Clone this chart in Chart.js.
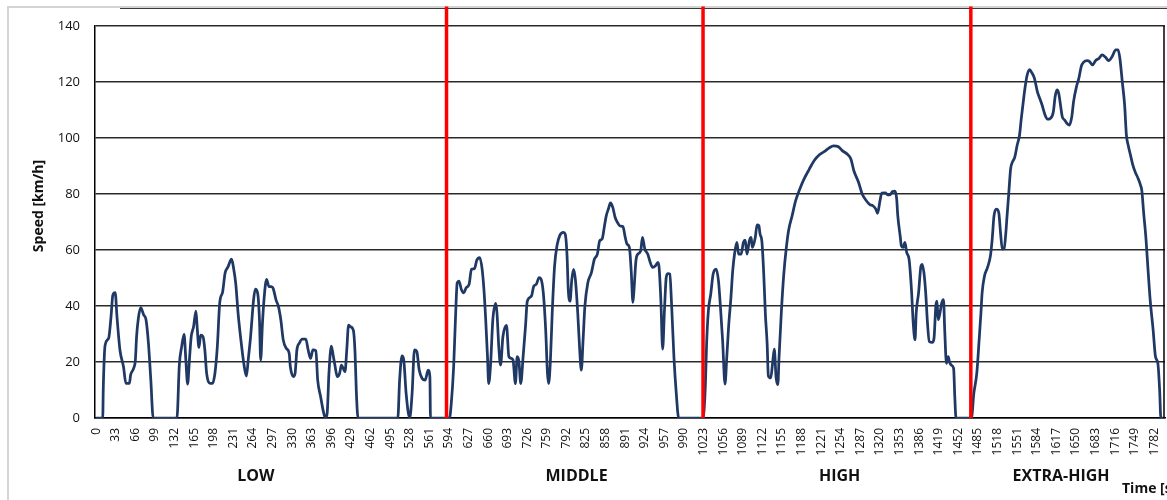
<!DOCTYPE html>
<html>
<head>
<meta charset="utf-8">
<title>WLTP speed trace</title>
<script src="https://cdn.jsdelivr.net/npm/chart.js@4/dist/chart.umd.min.js"></script>
<style>
  html, body { margin: 0; padding: 0; background: #fff; }
  #wrap { position: relative; width: 1167px; height: 500px; overflow: hidden; }
</style>
</head>
<body>
<div id="wrap"><canvas id="cycleChart" width="1167" height="500"></canvas></div>
<script>
// Speed trace: time [s] and speed [km/h]
const TIME_S = [
    0, 11, 12, 15, 21, 25, 28, 32, 35, 40, 46, 50, 56, 58, 63, 66, 68, 71, 75, 80,
    84, 88, 92, 96, 136, 140, 144, 148, 151, 154, 157, 160, 164, 168, 170, 173, 176, 180, 183, 186,
    192, 196, 200, 204, 208, 213, 217, 222, 228, 231, 235, 239, 245, 249, 253, 256, 260, 265, 268, 272,
    275, 277, 280, 283, 287, 291, 295, 298, 303, 307, 311, 315, 320, 325, 327, 332, 335, 338, 342, 347,
    353, 357, 361, 365, 370, 373, 378, 382, 386, 389, 392, 396, 399, 402, 406, 410, 413, 416, 419, 422,
    425, 428, 433, 436, 438, 441, 508, 511, 515, 518, 522, 528, 532, 536, 540, 544, 549, 554, 559, 562,
    563, 595,
    598, 602, 605, 608, 611, 615, 619, 623, 628, 632, 637, 641, 646, 650, 653, 656, 659, 661, 664, 668,
    673, 675, 678, 681, 685, 691, 695, 699, 702, 706, 709, 712, 715, 719, 723, 726, 733, 737, 741, 746,
    749, 753, 757, 760, 762, 765, 768, 772, 776, 781, 787, 790, 793, 795, 798, 801, 804, 807, 811, 814,
    817, 820, 823, 828, 834, 839, 844, 848, 852, 856, 859, 863, 866, 870, 874, 878, 882, 887, 891, 894,
    898, 901, 904, 906, 909, 912, 917, 920, 924, 929, 933, 937, 942, 946, 948, 951, 954, 957, 960, 963,
    966, 969, 973, 977, 981, 1022,
    1026, 1028, 1031, 1035, 1039, 1044, 1048, 1051, 1055, 1059, 1062, 1065, 1069, 1072, 1075, 1079, 1082, 1086, 1090, 1093,
    1096, 1100, 1103, 1105, 1110, 1113, 1116, 1118, 1121, 1124, 1127, 1130, 1132, 1136, 1139, 1142, 1145, 1148, 1150, 1154,
    1158, 1162, 1166, 1172, 1178, 1185, 1192, 1201, 1209, 1218, 1226, 1234, 1242, 1250, 1257, 1265, 1271, 1276, 1284, 1290,
    1297, 1303, 1308, 1313, 1316, 1320, 1323, 1329, 1333, 1337, 1341, 1345, 1348, 1350, 1354, 1356, 1359, 1362, 1365, 1369,
    1373, 1376, 1379, 1381, 1385, 1389, 1391, 1394, 1397, 1400, 1403, 1408, 1411, 1414, 1416, 1418, 1421, 1424, 1427, 1429,
    1432, 1435, 1437, 1440, 1444, 1446, 1448, 1474,
    1478, 1483, 1487, 1490, 1492, 1496, 1501, 1506, 1509, 1512, 1516, 1520, 1523, 1526, 1529, 1532, 1534, 1537, 1540, 1543,
    1547, 1551, 1555, 1558, 1562, 1565, 1568, 1572, 1576, 1580, 1585, 1589, 1593, 1598, 1602, 1607, 1612, 1615, 1618, 1621,
    1624, 1627, 1631, 1635, 1639, 1643, 1646, 1651, 1655, 1659, 1663, 1669, 1673, 1678, 1683, 1689, 1694, 1700, 1705, 1711,
    1717, 1721, 1724, 1728, 1732, 1735, 1738, 1742, 1746, 1750, 1755, 1759, 1761, 1764, 1768, 1771, 1775, 1780, 1784, 1788,
    1791, 1793, 1800
];
const SPEED_KMH = [
    0, 0, 11.2, 26, 28.5, 36.2, 43.9, 44.8, 36.2, 24.3, 18.3, 12.4, 12.4, 15.4, 17.7, 20.7, 29, 35.6, 39.4, 36.8,
    35, 26.7, 13.6, 0, 0, 18.9, 25.5, 29.9, 20.7, 12.1, 20.7, 29, 32.6, 38.2, 32.6, 25.2, 29.6, 29, 24.3, 16,
    12.4, 12.4, 16, 25.5, 41, 45.1, 51.7, 54, 56.7, 54, 48.1, 37.4, 25.5, 18.9, 15, 20.7, 29, 42.1, 46, 44.5,
    35, 20.7, 33.8, 43.3, 49.5, 46.9, 46.9, 46.3, 42.1, 39.8, 35, 27.9, 24.9, 23.1, 18.3, 14.8, 16, 24.3, 26.7, 28.2,
    28.2, 24.3, 21.3, 24.3, 24, 13.6, 7.6, 2.9, 0, 1.7, 16, 25.7, 22.5, 18.9, 14.8, 16, 18.9, 17.7, 16.5, 24.3,
    33.2, 32.6, 31.4, 23.1, 10, 0, 0, 13.5, 22.2, 20.7, 8.7, 0, 8.7, 24.3, 23.7, 17.1, 14.1, 13.5, 17.1, 14.7,
    0, 0,
    5.2, 18.3, 35.1, 48.3, 48.9, 45.9, 44.7, 46.5, 47.7, 53.1, 53.3, 56.4, 57.3, 53.1, 45.9, 35.1, 21.9, 12.3, 18.3, 35.1,
    40.9, 37.5, 25.5, 18.9, 29.1, 33.1, 21.9, 21.3, 20.7, 12.3, 21.9, 20.1, 12.3, 21.9, 32.7, 41.7, 43.5, 47.1, 47.7, 50.1,
    49.7, 44.7, 31.5, 15.9, 12.3, 20.7, 37.5, 54.3, 61.5, 65.3, 66.3, 65.6, 57.9, 45.9, 41.7, 49.5, 53.1, 49.5, 37.5, 25.5,
    17.1, 27.9, 39.9, 48.3, 51.9, 56.7, 58.5, 63.3, 63.9, 68.6, 72.2, 74.9, 76.8, 75.2, 71.6, 69.8, 68.6, 68.4, 64.5, 62.1,
    60.9, 52.6, 41.3, 46.6, 56.2, 58.5, 59.7, 64.5, 60.3, 58.5, 55.6, 53.8, 54.4, 55.6, 53.8, 41.9, 24.6, 38.3, 50.2, 51.6,
    51.4, 40.7, 21.7, 8.6, 0, 0,
    12.1, 26.4, 38.3, 44.3, 51.4, 53.2, 49, 40.7, 27.6, 12.1, 21.7, 32.4, 43.1, 52.6, 58.5, 62.7, 58.5, 58.5, 62.7, 63.5,
    58.5, 63.3, 64.5, 60.9, 64.5, 69, 68.7, 65.7, 63.3, 52.6, 37.1, 26.4, 15.1, 14.3, 19.3, 24.6, 14.5, 11.9, 21.7, 38.3,
    51.4, 60.3, 66.9, 72.2, 77.6, 81.8, 85.3, 88.9, 91.9, 94, 95.1, 96.4, 97.2, 96.9, 95.4, 94.2, 92.5, 88.3, 84.1, 80,
    77.6, 76.2, 75.8, 74.6, 73.1, 77.6, 80.3, 80.4, 79.7, 79.7, 80.9, 81, 78.5, 72.2, 65, 61.5, 60.9, 62.7, 59.1, 56.7,
    45.9, 33.9, 27.9, 37.5, 44.7, 54.3, 54.9, 51.9, 44.7, 33.9, 27.3, 27, 28.5, 39.9, 41.7, 35.1, 37.5, 41.1, 42.3, 31.5,
    19.5, 21.9, 20.1, 18.9, 17.7, 7.5, 0, 0,
    8.7, 15.9, 27.9, 37.5, 44.7, 50.7, 53.7, 57.9, 63.9, 72.2, 74.6, 73.4, 66.2, 60.3, 60.5, 66.2, 72.2, 80.6, 89, 91.4,
    93.2, 97.4, 101, 107, 114.2, 119, 122.6, 124.4, 123.2, 121.4, 116.6, 114.2, 111.8, 108.2, 106.7, 107, 109.4, 114.8, 117.2, 116,
    111.8, 107.6, 106.4, 105.2, 104.6, 107.6, 113, 118.4, 121.4, 125.6, 127.1, 127.6, 127.3, 126.1, 127.6, 128.5, 129.7, 128.8, 127.6, 129.1,
    131.5, 131.5, 128.5, 120.2, 111.8, 101, 97.4, 93.8, 90.2, 87.8, 85.4, 83, 81.2, 73.4, 63.9, 54.3, 42.3, 31.5, 21.9, 19.5,
    9.9, 0, 0
];

// Phase boundaries (red markers) and phase names
const PHASE_ENDS_S = [590, 1022, 1473];
const PHASE_NAMES = ['LOW', 'MIDDLE', 'HIGH', 'EXTRA-HIGH'];
const PHASE_LABEL_AT_S = [269, 809, 1252, 1625];

const X_TICK_STEP = 33;
const X_LAST_TICK = 1782;
const Y_TICKS_KMH = [0, 20, 40, 60, 80, 100, 120, 140];

(function () {
    const FONT = "'Open Sans', 'Noto Sans', sans-serif";
    const TEXT = '#111';

    const speedPoints = TIME_S.map((t, i) => ({ x: t, y: SPEED_KMH[i] }));

    const xTicks = [];
    for (let v = 0; v <= X_LAST_TICK; v += X_TICK_STEP) xTicks.push({ value: v });

    // red boundary markers run a little above the 140 line, to the frame
    const markerSets = PHASE_ENDS_S.map(t => ({
        data: [{ x: t, y: 0 }, { x: t, y: 147 }],
        borderColor: '#ff0000',
        borderWidth: 3.5,
        pointRadius: 0,
        clip: false,
        order: 0,
    }));

    const framePlugin = {
        id: 'frame',
        beforeDraw(chart) {
            const c = chart.ctx;
            c.save();
            c.fillStyle = '#fff';
            c.fillRect(0, 0, chart.width, chart.height);
            // outer chart border (cut by the picture edge)
            c.fillStyle = '#d4d4d4';
            c.fillRect(7, 6, 2, chart.height);
            c.fillRect(7, 6, chart.width, 2);
            c.fillStyle = '#3a3a3a';
            c.fillRect(120, 8, chart.width, 1);
            c.restore();
        },
        afterDraw(chart) {
            const c = chart.ctx;
            const a = chart.chartArea;
            const xs = chart.scales.x;
            c.save();
            // plot area right edge
            c.strokeStyle = '#000';
            c.lineWidth = 1.5;
            c.beginPath();
            c.moveTo(a.right - 1, a.top);
            c.lineTo(a.right - 1, a.bottom);
            c.stroke();

            c.fillStyle = TEXT;
            c.textBaseline = 'middle';
            c.textAlign = 'center';
            c.font = 'bold 16px ' + FONT;
            PHASE_NAMES.forEach((name, i) => {
                c.fillText(name, xs.getPixelForValue(PHASE_LABEL_AT_S[i]), 476);
            });

            c.font = 'bold 14px ' + FONT;
            c.textAlign = 'left';
            c.fillText('Time [s]', 1122, 489);

            c.translate(39, 206);
            c.rotate(-Math.PI / 2);
            c.textAlign = 'center';
            c.fillText('Speed [km/h]', 0, 0);
            c.restore();
        }
    };

    new Chart(document.getElementById('cycleChart'), {
        type: 'line',
        data: {
            datasets: [
                ...markerSets,
                {
                    data: speedPoints,
                    borderColor: '#1f3864',
                    borderWidth: 2.75,
                    pointRadius: 0,
                    cubicInterpolationMode: 'monotone',
                    order: 1,
                }
            ]
        },
        options: {
            responsive: false,
            animation: false,
            events: [],
            layout: { padding: { left: 0, right: 2, top: 26, bottom: 0 } },
            plugins: {
                legend: { display: false },
                tooltip: { enabled: false },
            },
            scales: {
                x: {
                    type: 'linear',
                    min: -2,
                    max: 1800,
                    bounds: 'data',
                    grid: { display: false, drawTicks: false },
                    border: { display: true, color: '#000', width: 1.5 },
                    ticks: {
                        autoSkip: false,
                        minRotation: 90,
                        maxRotation: 90,
                        padding: 10,
                        color: TEXT,
                        font: { family: FONT, size: 12 },
                        callback: v => String(Math.round(v)),
                    },
                    afterBuildTicks(s) {
                        s.ticks = xTicks.map(t => ({ value: t.value }));
                    },
                    afterFit(s) {
                        s.height = 82;
                        // rotated labels need no side room here; keep the full width for the data
                        s.paddingLeft = 0;
                        s.paddingRight = 0;
                    },
                },
                y: {
                    min: 0,
                    max: 140,
                    grid: { color: '#2a2a2a', lineWidth: 1.5, drawTicks: false },
                    border: { display: true, color: '#000', width: 1.5 },
                    ticks: {
                        stepSize: 20,
                        padding: 15,
                        color: TEXT,
                        font: { family: FONT, size: 13 },
                    },
                    afterBuildTicks(s) {
                        s.ticks = Y_TICKS_KMH.map(v => ({ value: v }));
                    },
                    afterFit(s) { s.width = 95; },
                }
            }
        },
        plugins: [framePlugin]
    });
})();
</script>
</body>
</html>
